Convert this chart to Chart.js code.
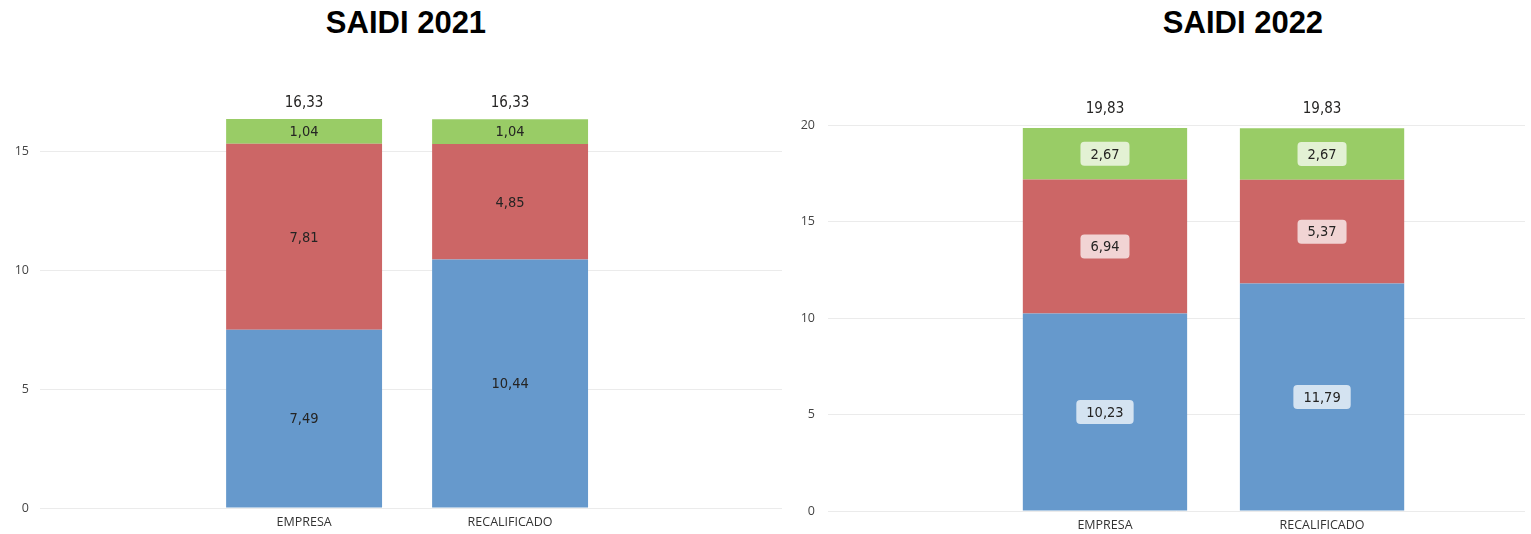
<!DOCTYPE html>
<html>
<head>
<meta charset="utf-8">
<script src="https://cdn.jsdelivr.net/npm/chart.js@4/dist/chart.umd.min.js"></script>
<style>
    html, body { margin: 0; padding: 0; background: #fff; }
    #lienzo { position: relative; width: 1531px; height: 534px; overflow: hidden; }
    .titulo {
        position: absolute; top: 7px; width: 400px; text-align: center;
        font: bold 31px "Liberation Sans", Arial, sans-serif; line-height: 31px; color: #000;
    }
    .caja { position: absolute; top: 0; height: 534px; }
</style>
</head>
<body>
<div id="lienzo">
    <div class="titulo" style="left: 206px;">SAIDI 2021</div>
    <div class="titulo" style="left: 1043px;">SAIDI 2022</div>
    <div class="caja" style="left: 0; width: 790px;"><canvas id="chart2021"></canvas></div>
    <div class="caja" style="left: 780px; width: 751px;"><canvas id="chart2022"></canvas></div>
</div>
<script>
// Categorías del eje X
const categorias = ['EMPRESA', 'RECALIFICADO'];

// SAIDI 2021
const azul2021 = [7.49, 10.44];
const rojo2021 = [7.81, 4.85];
const verde2021 = [1.04, 1.04];
const total2021 = [16.33, 16.33];

// SAIDI 2022
const azul2022 = [10.23, 11.79];
const rojo2022 = [6.94, 5.37];
const verde2022 = [2.67, 2.67];
const total2022 = [19.83, 19.83];

const colores = ['#6699CC', '#CC6666', '#99CC66'];
const fuenteDatos = "'DejaVu Sans Condensed', 'Roboto', sans-serif";
const fuenteEjes = "'Open Sans', 'Noto Sans', sans-serif";

const formato = v => v.toFixed(2).replace('.', ',');

// Etiquetas dentro de cada segmento y total encima de la barra
const etiquetas = {
    id: 'etiquetas',
    afterDatasetsDraw(chart, args, opts) {
        const ctx = chart.ctx;
        ctx.save();
        ctx.textAlign = 'center';
        ctx.textBaseline = 'middle';
        ctx.font = '14.5px ' + fuenteDatos;
        chart.data.datasets.forEach((ds, i) => {
            const meta = chart.getDatasetMeta(i);
            meta.data.forEach((barra, j) => {
                const texto = formato(ds.data[j].y);
                const x = barra.x;
                const y = (barra.y + barra.base) / 2;
                if (opts.caja) {
                    const w = ctx.measureText(texto).width + 20;
                    const h = 24;
                    ctx.fillStyle = 'rgba(255,255,255,0.72)';
                    ctx.beginPath();
                    ctx.roundRect(x - w / 2, y - h / 2, w, h, 4);
                    ctx.fill();
                }
                ctx.fillStyle = '#252423';
                ctx.fillText(texto, x, y + 1);
            });
        });
        // Totales
        const ultima = chart.getDatasetMeta(chart.data.datasets.length - 1);
        ctx.font = '15px ' + fuenteDatos;
        ctx.fillStyle = '#252423';
        ultima.data.forEach((barra, j) => {
            ctx.fillText(formato(opts.totales[j]), barra.x, barra.y - opts.separacion);
        });
        ctx.restore();
    }
};

function crearGrafico(id, series, totales, cfg) {
    const ctx = document.getElementById(id).getContext('2d');
    const nombres = ['Serie 1', 'Serie 2', 'Serie 3'];
    return new Chart(ctx, {
        type: 'bar',
        data: {
            datasets: series.map((valores, i) => ({
                label: nombres[i],
                data: valores.map((v, j) => ({ x: j, y: v })),
                backgroundColor: colores[i],
                borderWidth: 0,
                barPercentage: 0.757,
                categoryPercentage: 1,
            })),
        },
        options: {
            responsive: true,
            maintainAspectRatio: false,
            animation: false,
            layout: { padding: { top: cfg.arriba, right: cfg.derecha, left: 0, bottom: 0 } },
            plugins: {
                legend: { display: false },
                tooltip: { enabled: false },
                etiquetas: { caja: cfg.caja, totales: totales, separacion: cfg.separacion },
            },
            scales: {
                x: {
                    type: 'linear',
                    stacked: true,
                    offset: false,
                    min: cfg.xMin,
                    max: cfg.xMax,
                    grid: { display: false },
                    border: { display: false },
                    afterBuildTicks: scale => { scale.ticks = categorias.map((_, i) => ({ value: i })); },
                    afterFit: scale => { scale.height = cfg.altoX; },
                    ticks: {
                        autoSkip: false,
                        maxRotation: 0,
                        padding: cfg.rellenoX,
                        color: '#333',
                        font: { family: fuenteEjes, size: 12.5 },
                        callback: v => categorias[v],
                    },
                },
                y: {
                    stacked: true,
                    min: 0,
                    max: cfg.yMax,
                    grid: { color: '#EBEBEB', drawTicks: false },
                    border: { display: false },
                    afterBuildTicks: scale => { scale.ticks = scale.ticks.filter(t => t.value % 5 === 0); },
                    afterFit: scale => { scale.width = cfg.anchoY; },
                    ticks: {
                        stepSize: 5,
                        padding: cfg.rellenoY,
                        color: '#444',
                        font: { family: fuenteEjes, size: 12.5 },
                    },
                },
            },
        },
        plugins: [etiquetas],
    });
}

crearGrafico('chart2021', [azul2021, rojo2021, verde2021], total2021, {
    caja: false, separacion: 16,
    arriba: 91.5, derecha: 8, altoX: 26, anchoY: 40, rellenoY: 11, rellenoX: -1,
    xMin: -1.282, xMax: 2.32, yMax: 17.5,
});

crearGrafico('chart2022', [azul2022, rojo2022, verde2022], total2022, {
    caja: true, separacion: 19,
    arriba: 105.7, derecha: 6, altoX: 23, anchoY: 48, rellenoY: 13, rellenoX: -1,
    xMin: -1.276, xMax: 1.935, yMax: 21,
});
</script>
</body>
</html>
